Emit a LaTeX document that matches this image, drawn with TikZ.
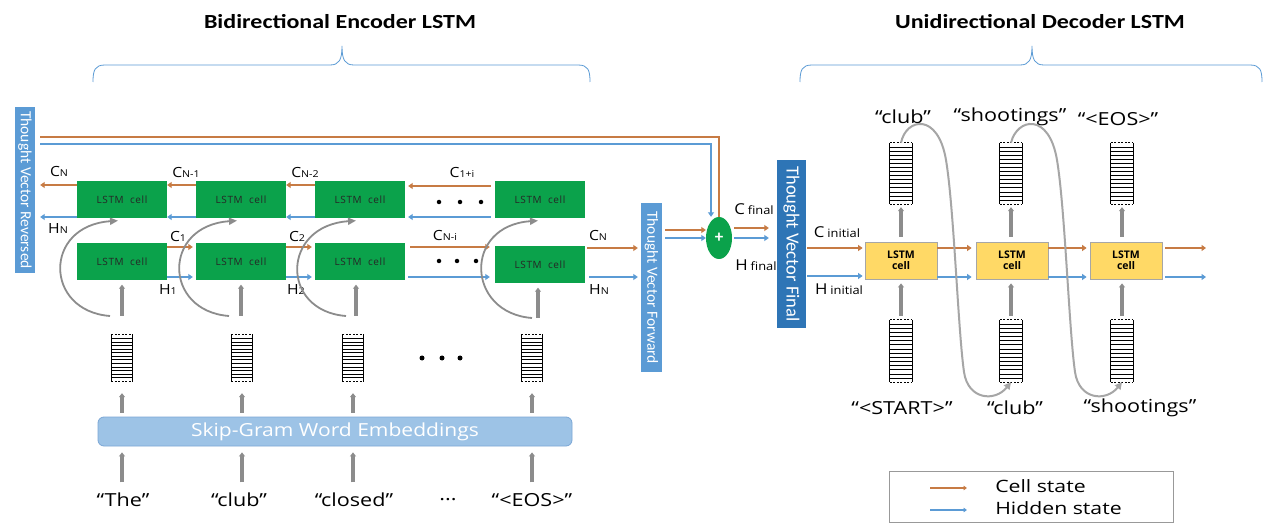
\documentclass[tikz,border=0pt]{standalone}
\usepackage{fontspec}
\setmainfont{Carlito}
\newfontfamily\osans{Open Sans}
\newfontfamily\osanssp[LetterSpace=6]{Open Sans}
\usetikzlibrary{arrows.meta,calc,shapes.geometric}
\definecolor{corange}{HTML}{C77B44}
\definecolor{cblue}{HTML}{5B9BD5}
\definecolor{cgreen}{HTML}{0BA24B}
\definecolor{cgold}{HTML}{FFD966}
\definecolor{cgray}{HTML}{8C8C8C}
\definecolor{cgrayl}{HTML}{A6A6A6}
\definecolor{tvblue}{HTML}{5B9BD5}
\definecolor{tvdark}{HTML}{2E75B6}
\definecolor{embfill}{HTML}{9DC3E6}
\definecolor{embdraw}{HTML}{7BA7D6}
\newcommand{\fs}[1]{\fontsize{#1}{#1}\selectfont}
\newcommand{\cs}[2]{{\fs{14}#1}{\fs{9.5}#2}}
\newcommand{\stripev}[6]{%
  \node[minimum width=#4pt, minimum height=#5pt, inner sep=0pt, fill=white] (#1) at (#2,#3) {};
  \foreach \k in {1,...,#6}{\draw[line width=0.7pt] ($(#1.north west)!\k/(#6+1)!(#1.south west)$) -- ++(#4,0);}
  \draw[line width=1pt] (#1.north west) -- (#1.south west) (#1.north east) -- (#1.south east);
  \draw[line width=1pt, dash pattern=on 2pt off 1.5pt] (#1.north west) -- (#1.north east) (#1.south west) -- (#1.south east);
}
\begin{document}
\begin{tikzpicture}[x=1pt,y=-1pt,
  every node/.style={inner sep=0pt},
  title/.style={font=\bfseries\fs{20}, xscale=1.2},
  ecell/.style={fill=cgreen, minimum width=90pt, minimum height=37pt, font=\osanssp\fs{10}, text=black!85},
  dcell/.style={fill=cgold, draw=black!35, line width=0.8pt, minimum width=72pt, minimum height=37pt, font=\osans\bfseries\fs{10.5}, align=center},
  tvtext/.style={rotate=-90, text=white},
  cst/.style={draw=corange, line width=2.6pt, -{Triangle[length=4.5pt,width=6pt]}},
  hst/.style={draw=cblue, line width=2.6pt, -{Triangle[length=4.5pt,width=6pt]}},
  cln/.style={draw=corange, line width=2.2pt},
  hln/.style={draw=cblue, line width=2.2pt},
  garrow/.style={draw=cgray, line width=3.2pt, -{Triangle[length=4pt,width=6pt]}},
  gcurve/.style={draw=cgray, line width=1.8pt, -{Triangle[length=8pt,width=7pt]}},
  gcurve2/.style={draw=cgrayl, line width=2pt, -{Triangle[length=7pt,width=7pt]}},
  lbl/.style={font=\osans, xscale=1.12},
  word/.style={font=\osans\fs{18}, xscale=1.2},
  dot/.style={circle, fill=black, minimum size=5pt},
  brace/.style={draw=cblue, line width=0.8pt},
]
\useasboundingbox (0,0) rectangle (1272,529);
\fill[white] (0,0) rectangle (1272,529);

% titles and braces
\node[title] (t1) at (340,22) {Bidirectional Encoder LSTM};
\node[title] (t2) at (1040,22) {Unidirectional Decoder LSTM};
\draw[brace] (93,82) .. controls (93,70) and (95,65) .. (105,65) -- (330,65) .. controls (339,65) and (342,60) .. (342,46) .. controls (342,60) and (345,65) .. (354,65) -- (578,65) .. controls (588,65) and (590,70) .. (590,82);
\draw[brace] (800,82) .. controls (800,70) and (802,65) .. (812,65) -- (1020,65) .. controls (1029,65) and (1032,60) .. (1032,46) .. controls (1032,60) and (1035,65) .. (1044,65) -- (1250,65) .. controls (1260,65) and (1262,70) .. (1262,82);

% thought vector boxes
\node[fill=tvblue, minimum width=20pt, minimum height=166pt] (TVR) at (25,190) {};
\node[tvtext, font=\fs{15.5}] at (TVR.center) {Thought Vector Reversed};
\node[fill=tvblue, minimum width=21pt, minimum height=169pt] (TVF) at (651.5,287.5) {};
\node[tvtext, font=\fs{15.5}] at (TVF.center) {Thought Vector Forward};
\node[fill=tvdark, minimum width=29pt, minimum height=168pt] (TVN) at (791.5,244) {};
\node[tvtext, font=\fs{18.5}] at (TVN.center) {Thought Vector Final};
\node[ellipse, fill=cgreen, minimum width=26pt, minimum height=42pt, text=white, font=\bfseries\fs{17}] (plus) at (719,238) {+};

% encoder cells
\node[ecell] (E1t) at (122,200) {LSTM\ \ cell};
\node[ecell] (E2t) at (241,200) {LSTM\ \ cell};
\node[ecell] (E3t) at (360,200) {LSTM\ \ cell};
\node[ecell] (E4t) at (540,200) {LSTM\ \ cell};
\node[ecell] (E1b) at (122,262) {LSTM\ \ cell};
\node[ecell] (E2b) at (241,262) {LSTM\ \ cell};
\node[ecell] (E3b) at (360,262) {LSTM\ \ cell};
\node[ecell] (E4b) at (540,265) {LSTM\ \ cell};

% top row (backward) arrows
\draw[cst] (E1t.west |- 0,185) -- ([xshift=5pt]TVR.east |- 0,185);
\draw[cst] (E2t.west |- 0,185) -- (E1t.east |- 0,185);
\draw[cst] (E3t.west |- 0,185) -- (E2t.east |- 0,185);
\draw[cst] ([xshift=-4pt]E4t.west |- 0,186) -- ([xshift=3pt]E3t.east |- 0,186);
\draw[hst] (E1t.west |- 0,217) -- ([xshift=5pt]TVR.east |- 0,217);
\draw[hst] (E2t.west |- 0,217) -- (E1t.east |- 0,217);
\draw[hst] (E3t.west |- 0,217) -- (E2t.east |- 0,217);
\draw[hst] ([xshift=-4pt]E4t.west |- 0,217) -- ([xshift=3pt]E3t.east |- 0,217);

% bottom row (forward) arrows
\draw[cst] (E1b.east |- 0,247) -- ([xshift=-3pt]E2b.west |- 0,247);
\draw[cst] (E2b.east |- 0,247) -- ([xshift=-3pt]E3b.west |- 0,247);
\draw[cst] ([xshift=5pt]E3b.east |- 0,247) -- ([xshift=-5pt]E4b.west |- 0,247);
\draw[cst] ([xshift=2pt]E4b.east |- 0,248) -- ([xshift=-3pt]TVF.west |- 0,248);
\draw[hst] (E1b.east |- 0,277) -- ([xshift=-3pt]E2b.west |- 0,277);
\draw[hst] (E2b.east |- 0,277) -- ([xshift=-3pt]E3b.west |- 0,277);
\draw[hst] ([xshift=3pt]E3b.east |- 0,277) -- ([xshift=-5pt]E4b.west |- 0,277);
\draw[hst] ([xshift=4pt]E4b.east |- 0,277) -- ([xshift=-3pt]TVF.west |- 0,277);

% dots in the encoder rows
\node[dot, minimum size=4.5pt] (dt1) at (439,202) {};
\node[dot, minimum size=4.5pt] (dt2) at (460,202) {};
\node[dot, minimum size=4.5pt] (dt3) at (481,202) {};
\node[dot, minimum size=4.5pt] (db1) at (439,261) {};
\node[dot, minimum size=4.5pt] (db2) at (457,261) {};
\node[dot, minimum size=4.5pt] (db3) at (476,261) {};

% encoder labels
\node[lbl] (lCN) at (59,172) {\cs{C}{N}};
\node[lbl] (lHN) at (58,229) {\cs{H}{N}};
\node[lbl] (lC1) at (186,173) {\cs{C}{N-1}};
\node[lbl] (lC2) at (305,173) {\cs{C}{N-2}};
\node[lbl] (lC3) at (462,173) {\cs{C}{1+i}};
\node[lbl] (lc1) at (178,237) {\cs{C}{1}};
\node[lbl] (lh1) at (168,290) {\cs{H}{1}};
\node[lbl] (lc2) at (297,237) {\cs{C}{2}};
\node[lbl] (lh2) at (296,290) {\cs{H}{2}};
\node[lbl] (lcni) at (445,236) {\cs{C}{N-i}};
\node[lbl] (lcn2) at (598,236) {\cs{C}{N}};
\node[lbl] (lhn2) at (599,290) {\cs{H}{N}};

% inputs to bottom cells
\coordinate (in1) at (122,316);
\coordinate (in2) at (241,316);
\coordinate (in3) at (356,316);
\coordinate (in4) at (538,318);
\draw[garrow] (in1) -- ([yshift=-4pt]E1b.south);
\draw[garrow] (in2) -- ([yshift=-4pt]E2b.south);
\draw[garrow] (in3) -- ([yshift=-4pt]E3b.south -| in3);
\draw[garrow] (in4) -- ([yshift=-4pt]E4b.south -| in4);

% recurrent curves
\draw[gcurve] ($(in1)+(-12,0)$) .. controls +(-66,-5) and +(-75,5) .. ($(E1t.south)+(-4,2)$);
\draw[gcurve] ($(in2)+(-12,0)$) .. controls +(-66,-5) and +(-75,5) .. ($(E2t.south)+(-4,2)$);
\draw[gcurve] ($(in3)+(-10,0)$) .. controls +(-66,-5) and +(-75,5) .. ($(E3t.south)+(-4,2)$);
\draw[gcurve] ($(in4)+(-6,0)$) .. controls +(-66,-5) and +(-75,5) .. ($(E4t.south)+(-2,2)$);

% embedding vectors
\stripev{V1}{122}{358}{21}{46}{12}
\stripev{V2}{242}{358}{21}{46}{12}
\stripev{V3}{353}{358}{21}{46}{12}
\stripev{V4}{532}{358}{21}{46}{12}
\node[dot] (de1) at (422,358) {};
\node[dot] (de2) at (442,358) {};
\node[dot] (de3) at (460,358) {};

% embeddings box
\node[draw=embdraw, fill=embfill, rounded corners=6pt, line width=0.8pt, minimum width=474pt, minimum height=29pt] (Emb) at (335,431.5) {};
\node[text=white, font=\osans\fs{18}, xscale=1.17] (EmbT) at (Emb.center) {Skip-Gram Word Embeddings};
\foreach \v in {V1,V2,V3,V4}{
  \draw[garrow] ($(\v |- Emb.north)+(0,-4)$) -- ($(\v.south)+(0,12)$);
  \draw[garrow] ($(\v |- Emb.south)+(0,36)$) -- ($(\v |- Emb.south)+(0,6)$);
}

% input words
\node[word] (W1) at (123,500) {“The”};
\node[word] (W2) at (239,500) {“club”};
\node[word] (W3) at (354,500) {“closed”};
\node[word] (W4) at (448,500) {...};
\node[word] (W5) at (532,500) {“<EOS>”};

% top bypass lines to plus
\draw[cln] ([xshift=5pt]TVR.east |- 0,137) -| (plus.north);
\draw[hln, -{Triangle[length=4.5pt,width=6pt]}] ([xshift=5pt]TVR.east |- 0,144) -| ([xshift=-8pt]plus.north);

% forward TV to plus, plus to final
\draw[cst] ([xshift=3pt]TVF.east |- 0,230) -- (plus.west |- 0,230);
\draw[hst] ([xshift=3pt]TVF.east |- 0,238) -- (plus.west);
\draw[cst] ([xshift=2pt]plus.east |- 0,228) -- ([xshift=-8pt]TVN.west |- 0,228);
\draw[hst] ([xshift=2pt]plus.east |- 0,238) -- ([xshift=-8pt]TVN.west |- 0,238);
\node[lbl] (lcf) at (754,209) {{\fs{15}C} {\fs{11.5}final}};
\node[lbl] (lhf) at (756,265) {{\fs{15}H} {\fs{11.5}final}};

% decoder
\node[dcell] (D1) at (901,260.5) {LSTM\\cell};
\node[dcell] (D2) at (1012,260.5) {LSTM\\cell};
\node[dcell] (D3) at (1126,260.5) {LSTM\\cell};
\coordinate (dC) at (1206,248);
\coordinate (dH) at (1206,277);
\draw[cst] ([xshift=1pt]TVN.east |- 0,248) -- ([xshift=-2pt]D1.west |- 0,248);
\draw[hst] ([xshift=1pt]TVN.east |- 0,276) -- ([xshift=-2pt]D1.west |- 0,276);
\draw[cst] (D1.east |- 0,248) -- ([xshift=-4pt]D2.west |- 0,248);
\draw[cst] (D2.east |- 0,248) -- ([xshift=-3pt]D3.west |- 0,248);
\draw[cst] ([xshift=3pt]D3.east |- 0,248) -- (dC);
\draw[hst] (D1.east |- 0,277) -- ([xshift=-4pt]D2.west |- 0,277);
\draw[hst] (D2.east |- 0,277) -- ([xshift=-3pt]D3.west |- 0,277);
\draw[hst] ([xshift=3pt]D3.east |- 0,277) -- (dH);
\node[lbl] (lci) at (837,232) {{\fs{15}C} {\fs{11.5}initial}};
\node[lbl] (lhi) at (839,289) {{\fs{15}H} {\fs{11.5}initial}};

\stripev{O1}{901}{173.5}{22}{61}{14}
\stripev{O2}{1011}{173.5}{22}{61}{14}
\stripev{O3}{1122}{173.5}{22}{61}{14}
\stripev{I1}{901}{351}{22}{62}{14}
\stripev{I2}{1011}{351}{22}{62}{14}
\stripev{I3}{1122}{351}{22}{62}{14}
\foreach \n in {1,2,3}{
  \draw[garrow] ([yshift=5pt]D\n.north -| O\n) -- ([yshift=-3pt]O\n.south);
  \draw[garrow] ([yshift=4pt]I\n.north) -- ([yshift=-4pt]D\n.south -| I\n);
}
\node[word] (ow1) at (903,117) {“club”};
\node[word] (ow2) at (1010,117) {“shootings”};
\node[word] (ow3) at (1118,119) {“<EOS>”};
\node[word] (iw1) at (902,408) {“<START>”};
\node[word] (iw2) at (1015,408) {“club”};
\node[word] (iw3) at (1140,408) {“shootings”};

% decoder feedback curves
\draw[gcurve2] (O1.north) .. controls (906,118) and (938,112) .. (946,160) .. controls (954,208) and (958,330) .. (964,372) .. controls (968,400) and (995,402) .. (I2.south);
\draw[gcurve2] (O2.north) .. controls (1017,118) and (1049,112) .. (1057,160) .. controls (1065,208) and (1069,330) .. (1075,372) .. controls (1079,400) and (1106,402) .. (I3.south);

% legend
\node[draw=black!40, line width=0.8pt, minimum width=284pt, minimum height=51pt] (leg) at (1031,496.5) {};
\coordinate (lg1) at (930,488);
\coordinate (lg2) at (967,488);
\coordinate (lg3) at (930,510);
\coordinate (lg4) at (967,510);
\draw[draw=corange, line width=2.2pt, -{Triangle[length=3.5pt,width=4.5pt]}] (lg1) -- (lg2);
\draw[draw=cblue, line width=2.2pt, -{Triangle[length=3.5pt,width=4.5pt]}] (lg3) -- (lg4);
\node[anchor=west, font=\osans\fs{17}, xscale=1.25] (lt1) at (995,486) {Cell state};
\node[anchor=west, font=\osans\fs{17}, xscale=1.25] (lt2) at (995,508) {Hidden state};
\end{tikzpicture}
\end{document}
